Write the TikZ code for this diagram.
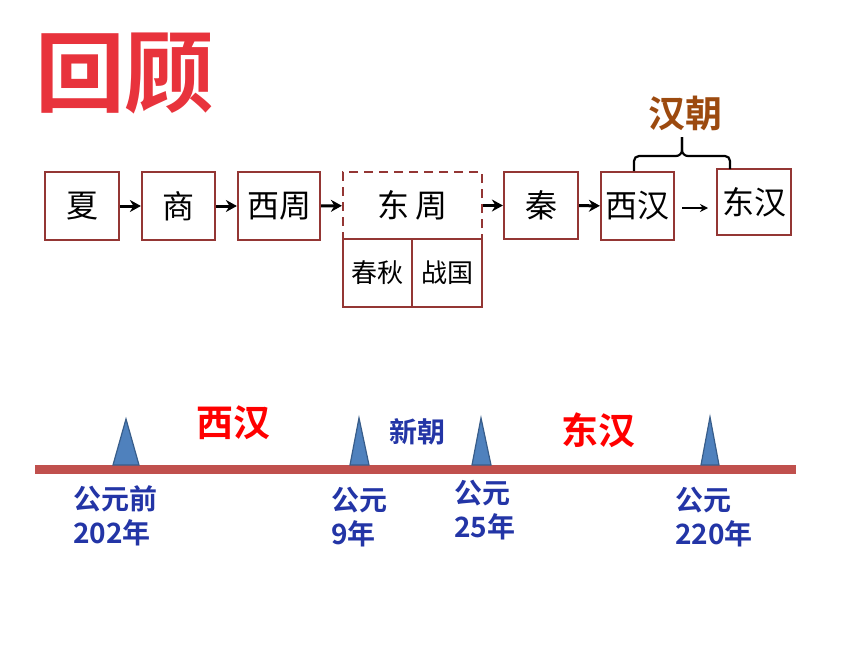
\documentclass[tikz,border=0pt]{standalone}
\usepackage{fontspec}
\newfontfamily\cjk{Noto Sans CJK SC}
\newfontfamily\cjkb{Noto Sans CJK SC Bold}
\usetikzlibrary{arrows.meta}
\definecolor{boxred}{HTML}{943634}
\definecolor{linered}{HTML}{C0504D}
\definecolor{tribl}{HTML}{4F81BD}
\definecolor{tribd}{HTML}{385D8A}
\definecolor{lblue}{HTML}{2335A6}
\definecolor{brown}{HTML}{9C4A0F}
\definecolor{titlered}{HTML}{E8333C}
\tikzset{
  era/.style={draw=boxred, line width=2.2pt, fill=white, inner sep=0pt, font=\cjk\fontsize{32}{32}\selectfont},
  subera/.style={era, font=\cjk\fontsize{26}{26}\selectfont},
  flow/.style={line width=3pt, -{Stealth[length=11pt,width=12pt]}},
  thinflow/.style={line width=1.3pt, -{Stealth[length=8pt,width=8pt]}},
  tickmark/.style={fill=tribl, draw=tribd, line width=1.2pt},
  yearlbl/.style={text=lblue, font=\cjkb\fontsize{28}{34}\selectfont, align=left, anchor=north west, inner sep=0pt},
  redlbl/.style={text=red, font=\cjkb\fontsize{37}{37}\selectfont, inner sep=0pt},
}
\begin{document}
\begin{tikzpicture}[x=1pt,y=-1pt]
\useasboundingbox (0,0) rectangle (860,645);
% title
\node[text=titlered, font=\cjkb\fontsize{88}{88}\selectfont, inner sep=0pt, xscale=1.02] (title) at (125,74) {回顾};
% boxes
\node[era, minimum width=74pt, minimum height=68pt] (xia) at (82,206) {夏};
\node[era, minimum width=73pt, minimum height=68pt] (shang) at (178.5,206) {商};
\node[era, minimum width=82pt, minimum height=68pt] (xizhou) at (279,206) {西周};
\node[era, draw=boxred, dash pattern=on 9pt off 6pt, minimum width=139pt, minimum height=67pt] (dongzhou) at (412.5,205.5) {东\,周};
\node[subera, minimum width=69pt, minimum height=68pt] (chunqiu) at (377.5,273) {春秋};
\node[subera, minimum width=70pt, minimum height=68pt] (zhanguo) at (447,273) {战国};
\node[era, minimum width=74pt, minimum height=67pt] (qin) at (541,205.5) {秦};
\node[era, minimum width=73pt, minimum height=68pt] (xihan) at (637.5,206) {西汉};
\node[era, minimum width=74pt, minimum height=66pt] (donghan) at (754,202) {东汉};
% arrows
\draw[flow] (xia) -- (shang);
\draw[flow] (shang) -- (xizhou);
\draw[flow] (xizhou) -- (dongzhou);
\draw[flow] (dongzhou.east |- qin) -- (qin);
\draw[flow] (qin) -- (xihan);
\coordinate (a1) at (682,208);
\coordinate (a2) at (708,208);
\draw[thinflow] (a1) -- (a2);
% brace
\coordinate (bl) at (634,171);
\coordinate (br) at (730,169);
\coordinate (bt) at (682,137);
\draw[line width=2.2pt] (bl) -- (634,161) arc(180:270:5) -- (676,156) arc(90:0:6) -- (bt);
\draw[line width=2.2pt] (br) -- (730,161) arc(0:-90:5) -- (688,156) arc(90:180:6) -- (bt);
\node[text=brown, font=\cjkb\fontsize{37}{37}\selectfont, inner sep=0pt] (hanchao) at (685,113) {汉朝};
% timeline
\coordinate (ts) at (35,469);
\coordinate (te) at (796,469);
\draw[linered, line width=9pt] (ts) -- (te);
\draw[tickmark] (113,465) -- (126,419) -- (139,465) -- cycle;
\draw[tickmark] (350,465) -- (359,418) -- (369,465) -- cycle;
\draw[tickmark] (472,465) -- (481,418) -- (491,465) -- cycle;
\draw[tickmark] (701,465) -- (710,417) -- (719,465) -- cycle;
\node[redlbl] (lxh) at (233,423) {西汉};
\node[text=lblue, font=\cjkb\fontsize{28}{28}\selectfont, inner sep=0pt] (lxc) at (417,432) {新朝};
\node[redlbl] (ldh) at (598,430) {东汉};
\node[yearlbl] (y1) at (73,485) {公元前\\202年};
\node[yearlbl] (y2) at (331,487) {公元\\9年};
\node[yearlbl] (y3) at (454,480) {公元\\25年};
\node[yearlbl] (y4) at (675,487) {公元\\220年};
\end{tikzpicture}
\end{document}
